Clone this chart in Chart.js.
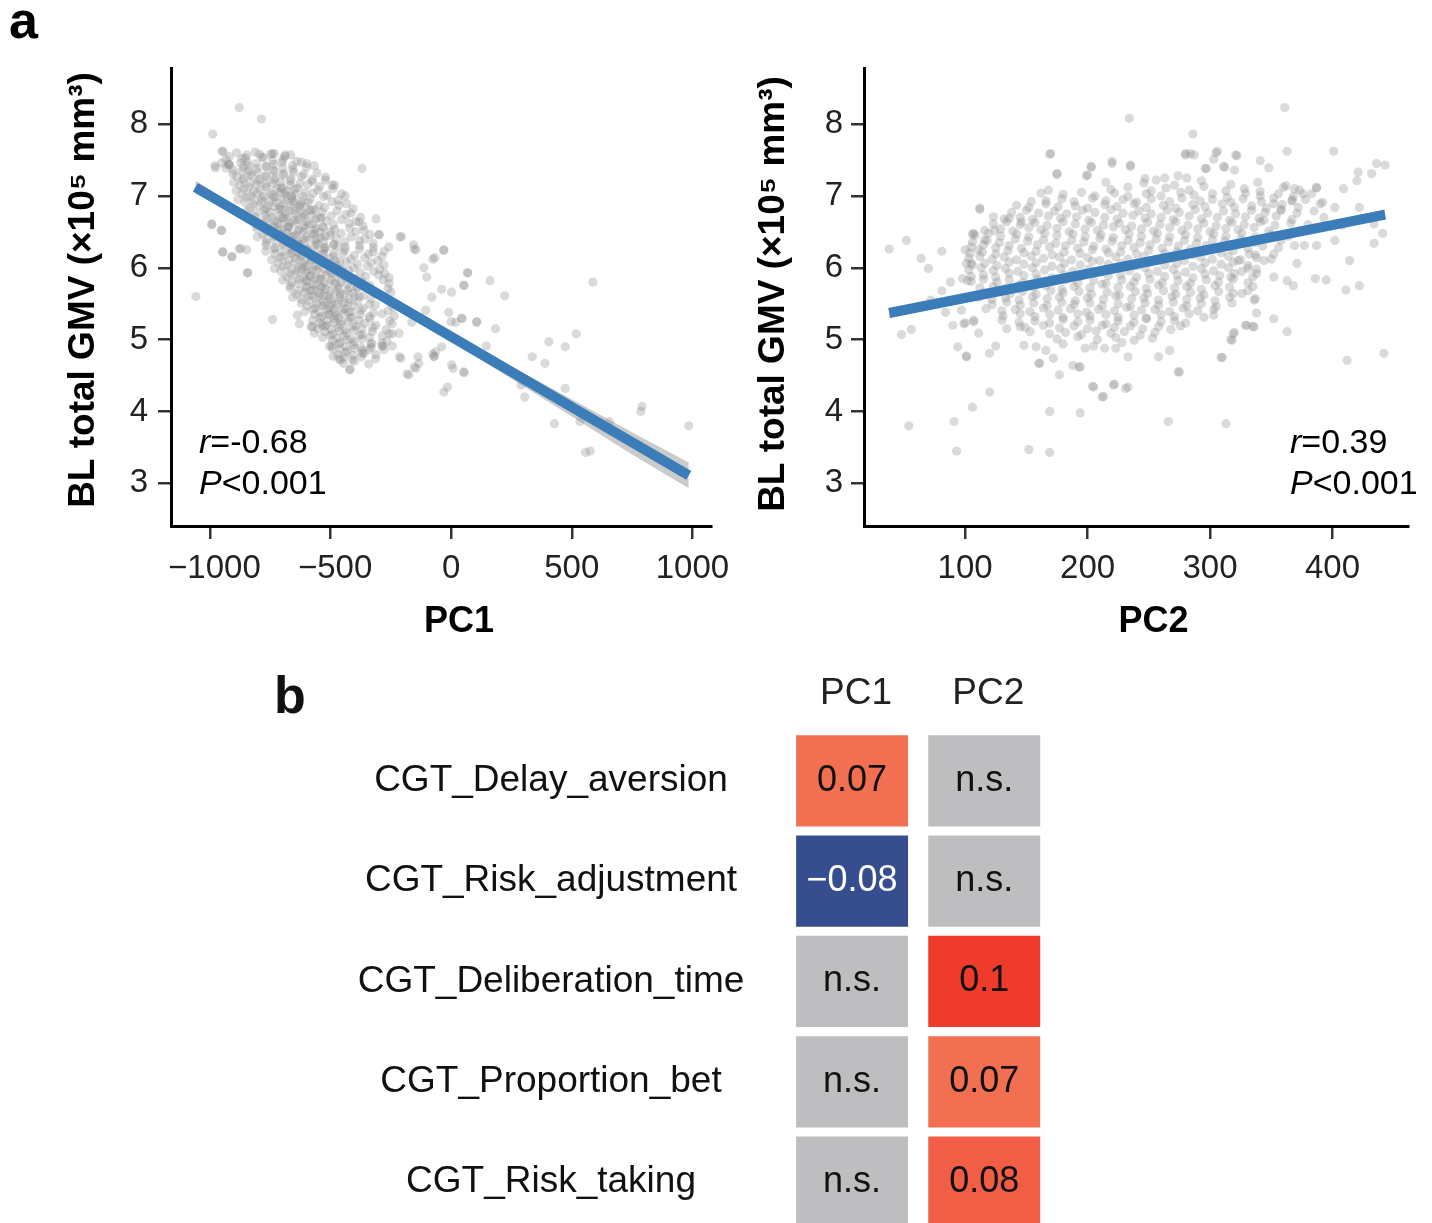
<!DOCTYPE html>
<html>
<head>
<meta charset="utf-8">
<script src="https://cdn.jsdelivr.net/npm/chart.js@4.4.1/dist/chart.umd.min.js"></script>
<style>
  html, body { margin: 0; padding: 0; background: #fff; overflow: hidden; }
  body { width: 1432px; height: 1223px; position: relative; }
  canvas { position: absolute; }
  #pc1Chart { left: 0; top: 0; }
  #pc2Chart { left: 720px; top: 0; }
  #heatChart { left: 0; top: 640px; }
</style>
</head>
<body>
<canvas id="pc1Chart" width="740" height="660"></canvas>
<canvas id="pc2Chart" width="712" height="660"></canvas>
<canvas id="heatChart" width="1432" height="583"></canvas>
<script>
// ---- data (x = PC score, y = BL total GMV x10^5 mm3) ----
const gmvTicks = [3, 4, 5, 6, 7, 8];
const pc1Ticks = [-1000, -500, 0, 500, 1000];
const pc2Ticks = [100, 200, 300, 400];

// main cloud, panel a left
const pc1Cloud = [
  -889,7.60, -812,7.61, -733,7.59,
  -919,7.55, -854,7.53, -784,7.54, -741,7.59, -690,7.55,
  -934,7.51, -867,7.52, -844,7.47, -778,7.53, -740,7.49, -697,7.51, -640,7.48,
  -920,7.43, -873,7.46, -842,7.42, -807,7.45, -768,7.41, -735,7.44, -701,7.47, -657,7.42, -598,7.45,
  -933,7.39, -902,7.36, -862,7.40, -839,7.35, -807,7.38, -766,7.41, -737,7.36, -698,7.39, -656,7.37, -599,7.40,
  -905,7.31, -866,7.34, -833,7.30, -800,7.33, -765,7.29, -732,7.34, -694,7.31, -653,7.33, -611,7.30, -556,7.32,
  -888,7.27, -859,7.24, -826,7.28, -793,7.23, -767,7.27, -729,7.25, -696,7.29, -664,7.24, -620,7.27, -576,7.23, -521,7.26,
  -901,7.19, -864,7.22, -832,7.18, -799,7.21, -767,7.17, -733,7.22, -705,7.19, -666,7.21, -627,7.17, -575,7.20, -521,7.22,
  -875,7.15, -840,7.12, -807,7.16, -768,7.13, -739,7.17, -705,7.12, -667,7.15, -636,7.11, -594,7.16, -545,7.13, -483,7.15,
  -891,7.07, -858,7.10, -819,7.06, -789,7.09, -752,7.05, -721,7.10, -683,7.07, -649,7.09, -606,7.05, -552,7.08, -490,7.10,
  -866,7.03, -831,7.00, -804,7.04, -777,6.99, -743,7.02, -711,7.05, -682,7.00, -647,7.03, -614,6.99, -572,7.04, -515,7.01, -454,7.03,
  -884,6.95, -847,6.98, -816,6.94, -785,6.97, -753,6.93, -724,6.98, -691,6.95, -659,6.97, -621,6.93, -584,6.96, -528,6.99, -467,6.94,
  -855,6.91, -821,6.88, -786,6.92, -758,6.87, -725,6.91, -694,6.89, -659,6.93, -625,6.88, -592,6.91, -548,6.87, -494,6.92, -433,6.89,
  -833,6.83, -794,6.86, -766,6.82, -731,6.85, -701,6.81, -668,6.86, -636,6.83, -602,6.85, -565,6.81, -524,6.84, -465,6.87, -406,6.82,
  -847,6.79, -813,6.76, -777,6.80, -749,6.77, -714,6.81, -683,6.75, -647,6.79, -614,6.76, -576,6.80, -534,6.77, -473,6.79, -415,6.76,
  -810,6.71, -773,6.74, -742,6.70, -712,6.73, -680,6.69, -646,6.74, -615,6.71, -577,6.73, -538,6.69, -497,6.72, -436,6.74, -375,6.70,
  -834,6.67, -798,6.64, -765,6.68, -733,6.65, -701,6.69, -669,6.63, -634,6.67, -600,6.64, -561,6.68, -516,6.65, -454,6.67, -395,6.64,
  -807,6.59, -771,6.62, -736,6.58, -706,6.61, -673,6.57, -640,6.62, -608,6.59, -571,6.61, -533,6.57, -487,6.60, -423,6.62, -365,6.58,
  -806,6.55, -768,6.52, -737,6.56, -702,6.53, -672,6.57, -636,6.51, -604,6.55, -568,6.52, -529,6.56, -483,6.53, -420,6.55, -361,6.52,
  -781,6.47, -746,6.50, -710,6.46, -679,6.49, -645,6.45, -613,6.50, -577,6.47, -542,6.49, -502,6.45, -456,6.48, -395,6.50, -336,6.46,
  -803,6.43, -765,6.40, -732,6.44, -700,6.41, -666,6.45, -633,6.39, -599,6.43, -562,6.40, -522,6.44, -476,6.41, -415,6.43, -357,6.40,
  -767,6.35, -732,6.38, -697,6.34, -666,6.37, -631,6.33, -599,6.38, -563,6.35, -528,6.37, -487,6.33, -441,6.36, -381,6.38, -323,6.34,
  -767,6.31, -730,6.28, -697,6.32, -663,6.29, -631,6.33, -596,6.27, -562,6.31, -525,6.28, -486,6.32, -439,6.29, -379,6.31, -322,6.28,
  -769,6.23, -732,6.26, -698,6.22, -666,6.25, -631,6.21, -599,6.26, -563,6.23, -527,6.25, -486,6.21, -440,6.24, -380,6.26, -323,6.22,
  -731,6.19, -695,6.16, -662,6.20, -627,6.17, -595,6.21, -560,6.15, -527,6.19, -488,6.16, -449,6.20, -401,6.17, -343,6.19, -287,6.16,
  -744,6.11, -709,6.14, -674,6.10, -643,6.13, -608,6.09, -576,6.14, -540,6.11, -503,6.13, -462,6.09, -416,6.12, -358,6.14, -304,6.10,
  -716,6.07, -679,6.04, -648,6.08, -614,6.05, -582,6.09, -547,6.03, -514,6.07, -475,6.04, -435,6.08, -387,6.05, -331,6.07, -278,6.04,
  -732,5.99, -697,6.02, -662,5.98, -632,6.01, -597,5.97, -564,6.02, -528,5.99, -492,6.01, -451,5.97, -404,6.00, -347,6.02, -296,5.98,
  -705,5.95, -668,5.92, -636,5.96, -602,5.93, -571,5.97, -536,5.91, -502,5.95, -464,5.92, -424,5.96, -377,5.93, -321,5.95, -275,5.92,
  -681,5.87, -646,5.90, -612,5.86, -582,5.89, -547,5.85, -515,5.90, -479,5.87, -443,5.89, -402,5.85, -355,5.88, -300,5.90, -257,5.86,
  -698,5.83, -661,5.80, -630,5.84, -597,5.81, -564,5.85, -530,5.79, -496,5.83, -458,5.80, -417,5.84, -368,5.81, -281,5.83,
  -668,5.75, -633,5.78, -600,5.74, -570,5.77, -535,5.73, -503,5.78, -467,5.75, -430,5.77, -389,5.73, -338,5.76, -257,5.78,
  -666,5.71, -632,5.68, -600,5.72, -568,5.69, -536,5.73, -501,5.67, -468,5.71, -430,5.68, -389,5.72, -338,5.69, -261,5.71,
  -641,5.63, -607,5.66, -576,5.62, -545,5.65, -511,5.61, -479,5.66, -443,5.63, -406,5.65, -365,5.61, -315,5.64, -249,5.66,
  -657,5.59, -621,5.56, -593,5.60, -560,5.57, -529,5.61, -495,5.55, -461,5.59, -423,5.56, -381,5.60, -333,5.57, -275,5.59,
  -621,5.51, -589,5.54, -558,5.50, -527,5.53, -495,5.49, -463,5.54, -426,5.51, -387,5.53, -338,5.49, -254,5.52,
  -597,5.47, -564,5.44, -535,5.48, -504,5.45, -473,5.49, -439,5.43, -404,5.47, -365,5.44, -314,5.48, -241,5.45,
  -606,5.39, -574,5.42, -545,5.38, -513,5.41, -482,5.37, -449,5.42, -413,5.39, -374,5.41, -322,5.37, -261,5.40,
  -566,5.35, -536,5.32, -506,5.36, -477,5.33, -446,5.37, -413,5.31, -378,5.35, -339,5.32, -286,5.36, -236,5.33,
  -574,5.27, -543,5.30, -513,5.26, -484,5.29, -453,5.25, -419,5.30, -383,5.27, -337,5.29, -255,5.26,
  -545,5.23, -516,5.20, -486,5.24, -458,5.21, -427,5.25, -394,5.19, -358,5.23, -312,5.20, -244,5.22,
  -553,5.15, -524,5.18, -496,5.14, -468,5.17, -438,5.13, -406,5.18, -369,5.15, -324,5.17, -270,5.14,
  -523,5.11, -491,5.08, -463,5.12, -434,5.09, -403,5.13, -369,5.07, -327,5.11, -257,5.08,
  -533,5.03, -502,5.06, -474,5.02, -445,5.05, -415,5.01, -380,5.06, -338,5.03, -285,5.05,
  -492,4.99, -461,4.96, -432,5.00, -402,4.97, -369,5.01, -329,4.95, -266,4.98,
  -494,4.91, -464,4.94, -435,4.90, -405,4.93, -373,4.89, -333,4.94, -287,4.91,
  -462,4.87, -430,4.84, -400,4.88, -367,4.85, -331,4.89, -278,4.86,
  -469,4.79, -437,4.82, -406,4.78, -369,4.81, -311,4.79,
  -444,4.75, -409,4.72, -372,4.76, -313,4.73,
  -447,4.67, -401,4.70, -342,4.66,
  // darker centre of the cloud
  -735,6.98, -690,7.04, -652,6.92, -708,6.85, -671,6.80, -628,6.86, -694,6.70, -649,6.66, -606,6.74, -676,6.57,
  -631,6.52, -590,6.61, -657,6.43, -612,6.39, -568,6.47, -641,6.30, -597,6.25, -553,6.33, -620,6.16, -577,6.11,
  -534,6.19, -601,6.02, -559,5.97, -515,6.05, -584,5.88, -540,5.84, -497,5.92, -563,5.75, -521,5.70, -479,5.78,
  -545,5.61, -503,5.57, -461,5.64, -526,5.48, -484,5.43, -443,5.51, -507,5.35, -466,5.30, -425,5.38, -718,6.63,
  -701,7.10, -662,7.00, -585,6.80, -560,6.55, -540,6.42, -520,6.28, -480,6.10, -458,5.98, -440,5.86, -420,5.72,
  -400,5.60, -620,5.98, -600,5.82, -580,5.68, -660,6.20, -680,6.36, -700,6.48, -720,6.52, -545,6.70, -500,6.50, -470,6.30
];
// sparse points round the cloud and along the tail, panel a left
const pc1Sparse = [
  -878,8.23, -786,8.07, -988,7.86, -950,7.62, -945,7.62, -977,7.39, -924,7.44, -847,7.57, -794,7.58, -748,7.58,
  -687,7.57, -664,7.57, -369,7.38, -1058,5.60, -992,6.60, -954,6.52, -947,6.22, -908,6.15, -878,6.26, -844,5.93,
  -740,5.28, -629,5.22, -580,5.18, -534,5.20, -504,4.91, -489,4.77, -458,4.72, -420,4.58, -282,4.91, -244,4.91,
  -214,4.76, -183,4.52, -153,4.62, -137,4.76, -76,4.80, -69,4.77, -30,4.27, -15,4.34, -153,6.26, -76,6.12,
  -30,6.24, -206,6.43, -298,6.46, 69,5.93, 54,5.75, 161,5.82, 222,5.61, 184,5.15, 146,4.91, 54,4.54,
  8,4.60, 0,5.25, 46,5.29, 107,5.25, 588,5.80, 519,5.08, 473,4.90, 405,4.97, 336,4.76, 389,4.67,
  290,4.37, 305,4.20, 473,4.32, 428,3.83, 534,3.86, 557,3.43, 577,3.45, 786,4.00, 791,4.07, 656,3.86, 985,3.80,
  -311,6.68, -212,6.43, -155,6.32, -146,6.25, -31,6.25, -68,6.14, 68,5.93, 52,5.76, 2,5.66, -39,5.70,
  -80,5.59, -101,5.87, -113,6.00, -10,5.38, 19,5.24, 43,5.30, 105,5.24, 2,4.65, 52,4.55, -39,4.90,
  -64,4.83, -72,4.76, -105,5.41, -126,5.31, -163,5.24, -493,7.15, -439,7.00, -381,6.64, -299,6.46, -258,6.29,
  -278,6.23, -637,5.34, -575,5.18, -567,5.09, -493,4.88, -464,4.73, -419,4.59, -361,4.81, -340,4.86, -287,4.95,
  -245,5.08, -216,5.09, -208,4.74, -175,4.51, -146,4.60, -134,4.67, -992,6.61, -950,6.52, -946,6.22, -909,6.16,
  -872,6.27, -847,6.25, -843,5.93, -979,7.42, -950,7.46, -918,7.44, -621,7.47, -567,7.42
];
const pc1Fit = [-1060, 7.12, 985, 3.11];
const pc1BandX = [-1060, -800, -550, -200, 200, 500, 750, 985];
const pc1BandHi = [7.21, 6.68, 6.16, 5.47, 4.72, 4.17, 3.71, 3.29];
const pc1BandLo = [7.03, 6.58, 6.10, 5.40, 4.56, 3.93, 3.40, 2.93];

// main cloud, panel a right
const pc2Cloud = [
  246,7.18, 271,7.15, 293,7.21, 317,7.16, 339,7.19, 362,7.14,
  219,7.09, 233,7.12, 252,7.07, 264,7.11, 283,7.08, 295,7.13, 313,7.07, 328,7.10, 341,7.06, 360,7.12, 373,7.08, 387,7.11,
  180,7.02, 195,7.05, 206,7.00, 222,7.04, 233,6.99, 248,7.03, 260,7.00, 276,7.05, 287,7.01, 302,7.03, 314,6.98, 329,7.04, 341,7.00, 356,7.03, 368,6.99, 383,7.03,
  166,6.93, 179,6.96, 189,6.92, 204,6.97, 215,6.93, 229,6.95, 240,6.91, 252,6.96, 267,6.92, 277,6.97, 292,6.93, 302,6.95, 317,6.91, 327,6.96, 342,6.92, 352,6.97, 367,6.93, 378,6.95, 392,6.91,
  142,6.87, 152,6.84, 166,6.89, 176,6.85, 190,6.86, 200,6.83, 214,6.88, 224,6.85, 238,6.89, 248,6.84, 262,6.87, 272,6.83, 286,6.88, 296,6.85, 310,6.89, 320,6.84, 334,6.86, 346,6.83, 359,6.88, 372,6.84,
  138,6.77, 150,6.80, 160,6.76, 173,6.79, 183,6.75, 196,6.80, 206,6.77, 219,6.81, 229,6.76, 242,6.79, 252,6.75, 265,6.80, 275,6.77, 288,6.81, 298,6.76, 311,6.79, 321,6.75, 334,6.80, 345,6.77, 358,6.81, 371,6.76, 385,6.79,
  123,6.71, 132,6.68, 145,6.70, 155,6.67, 168,6.72, 178,6.69, 191,6.71, 201,6.66, 214,6.70, 224,6.68, 237,6.73, 247,6.69, 260,6.70, 270,6.67, 283,6.72, 293,6.68, 306,6.70, 316,6.66, 329,6.71, 340,6.69, 354,6.72, 367,6.67,
  123,6.61, 134,6.64, 145,6.60, 157,6.63, 167,6.59, 180,6.64, 190,6.61, 203,6.63, 213,6.59, 226,6.62, 236,6.58, 249,6.63, 259,6.60, 272,6.64, 282,6.59, 295,6.62, 305,6.58, 318,6.63, 328,6.60, 341,6.64, 353,6.59, 366,6.62, 380,6.60,
  116,6.52, 129,6.54, 139,6.51, 152,6.56, 162,6.53, 175,6.55, 185,6.50, 198,6.54, 208,6.52, 221,6.57, 231,6.53, 244,6.54, 254,6.51, 267,6.56, 277,6.52, 290,6.54, 300,6.50, 313,6.55, 323,6.53, 336,6.56, 348,6.51,
  108,6.45, 119,6.48, 129,6.44, 142,6.47, 152,6.43, 165,6.48, 175,6.45, 188,6.47, 198,6.43, 211,6.46, 221,6.42, 234,6.47, 244,6.44, 257,6.48, 267,6.43, 280,6.46, 290,6.42, 303,6.47, 313,6.44, 326,6.48, 337,6.43, 350,6.46, 364,6.44,
  106,6.36, 118,6.38, 128,6.35, 141,6.40, 151,6.37, 164,6.39, 174,6.34, 187,6.38, 197,6.36, 210,6.41, 220,6.37, 233,6.38, 243,6.35, 256,6.40, 266,6.36, 279,6.38, 289,6.34, 302,6.39, 312,6.37, 325,6.40, 337,6.35,
  105,6.29, 115,6.32, 125,6.28, 136,6.31, 146,6.27, 159,6.32, 169,6.29, 182,6.31, 192,6.27, 205,6.30, 215,6.26, 228,6.31, 238,6.28, 251,6.32, 261,6.27, 274,6.30, 284,6.26, 297,6.31, 307,6.28, 320,6.32, 331,6.27, 343,6.30, 356,6.28,
  104,6.20, 114,6.22, 125,6.19, 135,6.24, 148,6.21, 158,6.23, 171,6.18, 181,6.22, 194,6.20, 204,6.25, 217,6.21, 227,6.22, 240,6.19, 250,6.24, 263,6.20, 273,6.22, 286,6.18, 296,6.23, 309,6.21, 319,6.24, 332,6.19,
  103,6.13, 112,6.16, 122,6.12, 132,6.15, 142,6.11, 154,6.16, 164,6.13, 177,6.15, 187,6.11, 200,6.14, 210,6.10, 223,6.15, 233,6.12, 246,6.16, 256,6.11, 269,6.14, 279,6.10, 292,6.15, 302,6.12, 315,6.16, 325,6.11, 338,6.14, 350,6.12,
  106,6.04, 116,6.06, 126,6.03, 136,6.08, 148,6.05, 158,6.07, 171,6.02, 181,6.06, 194,6.04, 204,6.09, 217,6.05, 227,6.06, 240,6.03, 250,6.08, 263,6.04, 273,6.06, 286,6.02, 296,6.07, 309,6.05, 319,6.08, 331,6.03,
  103,5.97, 113,6.00, 123,5.96, 133,5.99, 143,5.95, 155,6.00, 165,5.97, 178,5.99, 188,5.95, 201,5.98, 211,5.94, 224,5.99, 234,5.96, 247,6.00, 257,5.95, 270,5.98, 280,5.94, 293,5.99, 303,5.96, 315,6.00, 326,5.95, 338,5.98,
  105,5.88, 115,5.90, 125,5.87, 136,5.92, 148,5.89, 158,5.91, 171,5.86, 181,5.90, 194,5.88, 204,5.93, 217,5.89, 227,5.90, 240,5.87, 250,5.92, 263,5.88, 273,5.90, 286,5.86, 296,5.91, 308,5.89, 320,5.92,
  105,5.81, 115,5.84, 126,5.80, 136,5.83, 147,5.79, 159,5.84, 169,5.81, 182,5.83, 192,5.79, 205,5.82, 215,5.78, 228,5.83, 238,5.80, 251,5.84, 261,5.79, 274,5.82, 284,5.78, 297,5.83, 307,5.80, 319,5.84, 331,5.79,
  112,5.72, 123,5.74, 133,5.71, 144,5.76, 156,5.73, 166,5.75, 179,5.70, 189,5.74, 202,5.72, 212,5.77, 225,5.73, 235,5.74, 248,5.71, 258,5.76, 271,5.72, 281,5.74, 293,5.70, 304,5.75, 316,5.73,
  115,5.65, 126,5.68, 137,5.64, 147,5.67, 158,5.63, 170,5.68, 180,5.65, 193,5.67, 203,5.63, 216,5.66, 226,5.62, 239,5.67, 249,5.64, 262,5.68, 272,5.63, 284,5.66, 295,5.62, 307,5.67, 319,5.64, 331,5.68,
  111,5.59, 122,5.56, 133,5.58, 144,5.55, 155,5.60, 167,5.57, 177,5.59, 190,5.54, 200,5.58, 213,5.56, 223,5.61, 236,5.57, 246,5.58, 258,5.55, 269,5.60, 281,5.56, 292,5.58, 304,5.54, 316,5.59,
  122,5.49, 134,5.52, 145,5.48, 156,5.51, 167,5.47, 179,5.52, 189,5.49, 202,5.51, 212,5.47, 225,5.50, 235,5.46, 247,5.51, 258,5.48, 270,5.52, 281,5.47, 293,5.50, 305,5.46, 318,5.51,
  117,5.43, 130,5.40, 141,5.42, 153,5.39, 164,5.44, 176,5.41, 186,5.43, 199,5.38, 209,5.42, 222,5.40, 232,5.45, 244,5.41, 255,5.42, 267,5.39, 278,5.44, 290,5.40, 303,5.42,
  131,5.33, 145,5.36, 157,5.32, 169,5.35, 180,5.31, 192,5.36, 202,5.33, 215,5.35, 225,5.31, 238,5.34, 248,5.30, 260,5.35, 271,5.32, 283,5.36, 295,5.31, 303,5.34,
  130,5.27, 144,5.24, 157,5.26, 169,5.23, 180,5.28, 192,5.25, 202,5.27, 215,5.22, 225,5.26, 238,5.24, 248,5.29, 260,5.25, 271,5.26, 280,5.23,
  149,5.17, 164,5.20, 177,5.16, 189,5.19, 200,5.15, 212,5.20, 222,5.17, 235,5.19, 245,5.15, 258,5.18, 268,5.14, 276,5.19,
  153,5.11, 169,5.08, 182,5.10, 195,5.07, 207,5.12, 219,5.09, 230,5.11, 243,5.06, 255,5.10,
  175,5.01, 192,5.04, 208,5.00, 223,5.03, 238,4.99, 253,5.02,
  180,4.94, 205,4.91, 228,4.96
];
// sparse points round the cloud, panel a right
const pc2Sparse = [
  361,8.23, 234,8.08, 286,7.86, 169,7.58, 401,7.62, 363,7.62, 280,7.57, 287,7.57, 306,7.62, 322,7.56,
  436,7.45, 443,7.43, 421,7.33, 432,7.31, 341,7.49, 348,7.39, 312,7.40, 320,7.36, 297,7.38, 303,7.51,
  235,7.41, 203,7.40, 220,7.45, 175,7.30, 199,7.28, 215,7.19, 247,7.24, 256,7.22, 263,7.25, 274,7.28,
  281,7.25, 420,7.21, 409,7.10, 38,6.26, 52,6.38, 81,6.23, 64,6.13, 70,5.99, 100,6.25, 106,6.47,
  112,6.81, 88,5.80, 102,5.82, 81,5.68, 72,5.55, 84,5.38, 90,5.20, 99,5.22, 107,5.25, 48,5.07,
  56,5.14, 94,4.90, 101,4.77, 120,4.27, 106,4.06, 91,3.86, 54,3.80, 93,3.45, 152,3.47, 169,3.43,
  169,4.00, 194,3.98, 212,4.20, 222,4.38, 231,4.32, 204,4.35, 188,4.64, 177,4.51, 266,3.86, 313,3.83,
  275,4.55, 310,4.75, 412,4.71, 442,4.81, 363,5.11, 352,5.29, 336,5.18, 329,5.20, 319,5.08, 317,5.00,
  386,5.85, 395,5.83, 411,5.69, 422,5.75, 434,6.34, 441,6.48, 387,6.31, 377,6.31, 369,6.31, 368,5.75,
  258,4.76, 233,4.76, 214,4.88, 223,4.88, 193,4.62, 198,4.88, 161,4.67, 172,4.74, 148,4.92, 158,4.90,
  166,4.85, 125,4.91, 120,4.81, 134,5.15, 145,5.18, 170,7.59, 112,6.83, 175,7.31, 203,7.41, 200,7.29,
  220,7.48, 235,7.43, 280,7.59, 284,7.59, 305,7.60, 321,7.57, 296,7.38, 311,7.41, 107,6.48, 98,5.85,
  105,6.06, 97,5.41, 100,5.23, 107,5.27, 101,4.76, 111,5.09, 160,4.67, 194,4.62, 205,4.34, 213,4.21,
  233,4.34, 221,4.37, 267,4.85, 274,4.55, 309,4.75, 318,4.99, 320,5.10, 330,5.20, 335,5.18, 338,5.37,
  337,5.57, 331,5.99, 338,5.92, 335,5.74, 337,6.18, 154,6.92, 162,7.04, 168,7.08, 136,6.69, 124,6.52,
  146,6.64, 116,6.39, 111,6.25, 101,6.06, 352,6.89, 358,6.80, 367,6.94, 376,7.03, 369,7.10, 387,7.12,
  390,6.89, 402,6.84, 393,6.70, 408,6.59, 374,6.52, 358,6.38, 352,6.19, 371,6.06, 344,6.10, 335,5.87,
  326,5.64, 336,5.55, 317,5.87, 323,6.10, 422,6.84, 434,6.61, 402,6.38, 414,6.10, 352,5.87, 363,5.82, 344,6.66
];
const pc2Fit = [38, 5.37, 443, 6.74];
const pc2BandX = [38, 120, 230, 340, 443];
const pc2BandHi = [5.44, 5.69, 6.05, 6.44, 6.81];
const pc2BandLo = [5.30, 5.62, 6.01, 6.37, 6.67];

// panel b
const cgtMeasures = ['CGT_Delay_aversion', 'CGT_Risk_adjustment', 'CGT_Deliberation_time', 'CGT_Proportion_bet', 'CGT_Risk_taking'];
const pcNames = ['PC1', 'PC2'];
const pc1Assoc = [0.07, -0.08, null, null, null];   // null = n.s.
const pc2Assoc = [null, null, 0.1, 0.07, 0.08];

// ---- drawing ----
const FONT = '"Liberation Sans", Arial, Helvetica, sans-serif';
Chart.defaults.font.family = FONT;
Chart.defaults.color = '#222';
const BLUE = '#3B7DB8';
const DOT = 'rgba(140,140,140,0.32)';
const GMV_TITLE = 'BL total GMV (\u00d710\u2075 mm\u00b3)';

function toPoints(flat) {
  const out = [];
  for (let i = 0; i < flat.length; i += 2) out.push({ x: flat[i], y: flat[i + 1] });
  return out;
}
// negative labels sit a little right of their tick in the original
function fmtTick(v) { return v < 0 ? ' \u2212' + Math.abs(v) : String(v); }

function scatterDecor(d) {
  return {
    id: 'decor',
    afterDraw(chart) {
      const ctx = chart.ctx;
      ctx.save();
      ctx.fillStyle = '#000';
      ctx.textAlign = 'center';
      ctx.textBaseline = 'middle';
      ctx.font = 'bold 36px ' + FONT;
      ctx.fillText(d.xTitle, d.xTitlePos[0], d.xTitlePos[1]);
      ctx.save();
      ctx.translate(d.yTitlePos[0], d.yTitlePos[1]);
      ctx.rotate(-Math.PI / 2);
      ctx.font = 'bold 37px ' + FONT;
      ctx.fillText(GMV_TITLE, 0, 0);
      ctx.restore();
      ctx.textAlign = 'left';
      ctx.textBaseline = 'alphabetic';
      d.stats.forEach(s => {
        ctx.font = 'italic 34px ' + FONT;
        ctx.fillText(s[0], d.statX, s[2]);
        const w = ctx.measureText(s[0]).width;
        ctx.font = '34px ' + FONT;
        ctx.fillText(s[1], d.statX + w, s[2]);
      });
      if (d.letter) {
        ctx.font = 'bold 52px ' + FONT;
        ctx.fillText(d.letter, 9, 38);
      }
      ctx.restore();
    }
  };
}

function makeScatter(id, c) {
  return new Chart(document.getElementById(id), {
    type: 'scatter',
    data: {
      datasets: [
        { type: 'line', data: toPoints(c.fit), borderColor: BLUE, borderWidth: 10, borderCapStyle: 'butt',
          pointRadius: 0, fill: false, tension: 0, order: 0 },
        { type: 'line', data: c.bandX.map((x, i) => ({ x, y: c.bandHi[i] })), borderColor: 'rgba(0,0,0,0)',
          borderWidth: 0, pointRadius: 0, fill: '+1', backgroundColor: 'rgba(140,140,140,0.45)', order: 1 },
        { type: 'line', data: c.bandX.map((x, i) => ({ x, y: c.bandLo[i] })), borderColor: 'rgba(0,0,0,0)',
          borderWidth: 0, pointRadius: 0, fill: false, order: 2 },
        { data: toPoints(c.cloud.concat(c.sparse)), pointRadius: 4.6, pointBackgroundColor: DOT,
          pointBorderWidth: 0, order: 3 }
      ]
    },
    options: {
      responsive: false, animation: false, events: [],
      layout: { padding: c.padding },
      plugins: { legend: { display: false }, tooltip: { enabled: false } },
      scales: {
        x: {
          type: 'linear', min: c.xMin, max: c.xMax,
          afterBuildTicks: s => { s.ticks = c.xTicks.map(v => ({ value: v })); },
          afterFit: s => { s.height = 80; },
          grid: { drawOnChartArea: false, tickLength: 13, color: '#333', lineWidth: 2.5 },
          border: { color: '#000', width: 3 },
          ticks: { padding: 10, font: { size: 33 }, color: '#222', maxRotation: 0, autoSkip: false, callback: fmtTick }
        },
        y: {
          type: 'linear', min: 2.406, max: 8.78,
          afterBuildTicks: s => { s.ticks = gmvTicks.map(v => ({ value: v })); },
          afterFit: s => { s.width = c.yWidth; },
          grid: { drawOnChartArea: false, tickLength: 13, color: '#333', lineWidth: 2.5 },
          border: { color: '#000', width: 3 },
          ticks: { padding: c.yPad, font: { size: 33 }, color: '#222', callback: v => String(v) }
        }
      }
    },
    plugins: [scatterDecor(c.decor)]
  });
}

makeScatter('pc1Chart', {
  cloud: pc1Cloud, sparse: pc1Sparse, fit: pc1Fit, bandX: pc1BandX, bandHi: pc1BandHi, bandLo: pc1BandLo,
  xMin: -1161, xMax: 1078, xTicks: pc1Ticks, yWidth: 171, yPad: 10,
  padding: { top: 68, right: 26, bottom: 54, left: 0 },
  decor: { xTitle: 'PC1', xTitlePos: [459, 622], yTitlePos: [84, 290], statX: 199,
           stats: [['r', '=-0.68', 453], ['P', '<0.001', 494]], letter: 'a' }
});

makeScatter('pc2Chart', {
  cloud: pc2Cloud, sparse: pc2Sparse, fit: pc2Fit, bandX: pc2BandX, bandHi: pc2BandHi, bandLo: pc2BandLo,
  xMin: 17.4, xMax: 461.7, xTicks: pc2Ticks, yWidth: 144, yPad: 8,
  padding: { top: 68, right: 24, bottom: 54, left: 0 },
  decor: { xTitle: 'PC2', xTitlePos: [433.5, 622], yTitlePos: [53.5, 294], statX: 570,
           stats: [['r', '=0.39', 453], ['P', '<0.001', 494]] }
});

// colour scale for the association cells
function cellColor(v) {
  if (v === null) return '#BEBEC0';
  if (v < 0) return '#364E8D';
  const t = Math.min(Math.max((v - 0.07) / 0.03, 0), 1);
  const lo = [243, 111, 82], hi = [239, 59, 44];
  return 'rgb(' + lo.map((c, k) => Math.round(c + (hi[k] - c) * t)).join(',') + ')';
}
function fmtCell(v) {
  if (v === null) return 'n.s.';
  return (v < 0 ? '\u2212' : '') + String(Math.abs(v));
}

const assocCols = [pc1Assoc, pc2Assoc];
new Chart(document.getElementById('heatChart'), {
  type: 'bar',
  data: {
    labels: pcNames,
    datasets: cgtMeasures.map((name, i) => ({
      label: name,
      data: pcNames.map(() => [i - 0.4545, i + 0.4545]),
      backgroundColor: assocCols.map(col => cellColor(col[i])),
      borderWidth: 0, grouped: false, barPercentage: 1, categoryPercentage: 0.847
    }))
  },
  options: {
    responsive: false, animation: false, events: [],
    layout: { padding: { left: 0, right: 381.7, top: 0, bottom: 0 } },
    plugins: { legend: { display: false }, tooltip: { enabled: false } },
    scales: {
      x: {
        type: 'category', position: 'top',
        afterFit: s => { s.height = 90.6; },
        grid: { display: false }, border: { display: false },
        ticks: { font: { size: 37 }, color: '#222', padding: 7, labelOffset: 4 }
      },
      y: {
        type: 'linear', min: -0.5, max: 4.407, reverse: true,
        afterFit: s => { s.width = 786; },
        grid: { display: false }, border: { display: false },
        ticks: { display: false }
      }
    }
  },
  plugins: [{
    id: 'cellText',
    afterDatasetsDraw(chart) {
      const { ctx, scales: { x, y } } = chart;
      ctx.save();
      ctx.textAlign = 'center';
      ctx.textBaseline = 'middle';
      ctx.font = '36px ' + FONT;
      cgtMeasures.forEach((name, i) => {
        assocCols.forEach((col, j) => {
          const v = col[i];
          ctx.fillStyle = v !== null && v < 0 ? '#fff' : '#111';
          ctx.fillText(fmtCell(v), x.getPixelForValue(j), y.getPixelForValue(i));
        });
      });
      ctx.font = '37px ' + FONT;
      ctx.fillStyle = '#111';
      cgtMeasures.forEach((name, i) => ctx.fillText(name, 551, y.getPixelForValue(i)));
      ctx.textAlign = 'left';
      ctx.textBaseline = 'alphabetic';
      ctx.font = 'bold 52px ' + FONT;
      ctx.fillText('b', 274, 73);
      ctx.restore();
    }
  }]
});
</script>
</body>
</html>
